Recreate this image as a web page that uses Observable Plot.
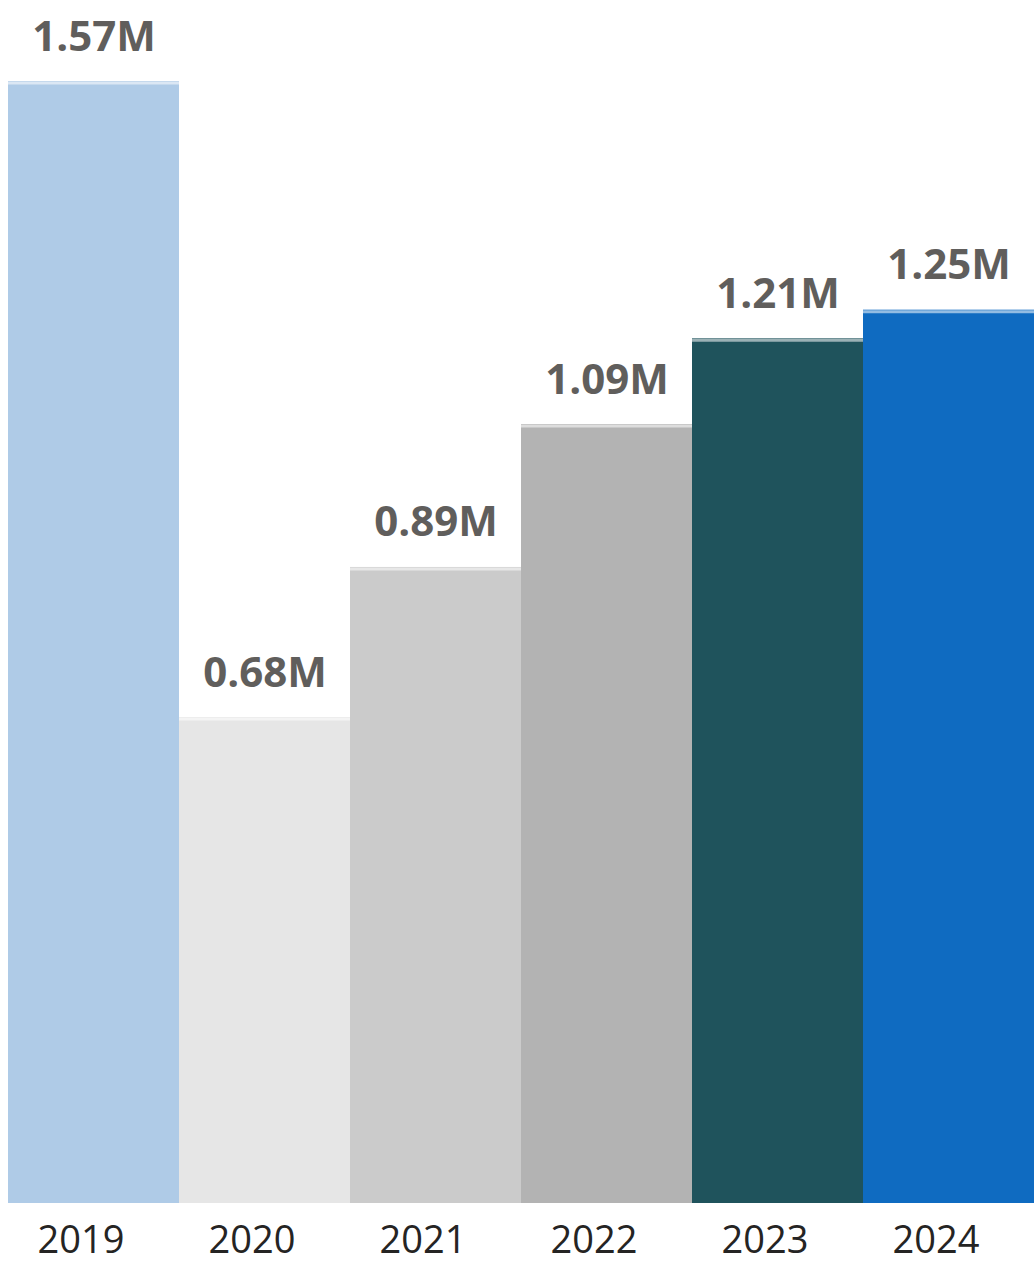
<!DOCTYPE html>
<html>
<head>
<meta charset="utf-8">
<script src="https://cdn.jsdelivr.net/npm/d3@7"></script>
<script src="https://cdn.jsdelivr.net/npm/@observablehq/plot@0.6"></script>
<style>
  html, body { margin: 0; padding: 0; background: #fff; }
  #chart svg { display: block; }
</style>
</head>
<body>
<div id="chart"></div>
<script>
const years = ["2019", "2020", "2021", "2022", "2023", "2024"];
const values = [1.57, 0.68, 0.89, 1.09, 1.21, 1.25]; // millions
const barColors = ["#afcbe7", "#e6e6e6", "#cbcbcb", "#b3b3b3", "#1f535c", "#0f6bc1"];

const data = years.map((year, i) => ({ year, value: values[i] }));

const chart = Plot.plot({
  width: 1035,
  height: 1265,
  marginTop: 81,
  marginBottom: 62,
  marginLeft: 7,
  marginRight: 0,
  style: { fontFamily: "'Open Sans', 'Noto Sans', sans-serif", background: "#fff" },
  x: { domain: years, padding: 0, label: null },
  y: { domain: [0, 1.57], axis: null },
  color: { domain: years, range: barColors },
  marks: [
    Plot.barY(data, { x: "year", y: "value", fill: "year" }),
    Plot.tickY(data, { x: "year", y: "value", stroke: "#ffffff", strokeOpacity: 0.55, strokeWidth: 3, dy: 1.5 }),
    Plot.text(data, {
      x: "year", y: "value",
      text: d => d.value.toFixed(2) + "M",
      lineAnchor: "bottom", dy: -31,
      fontSize: 42, fontWeight: 700, fill: "#605e5c"
    }),
    Plot.axisX({
      tickSize: 0, tickPadding: 23, fontSize: 38, fill: "#252423", dx: -13,
      label: null
    })
  ]
});

document.getElementById("chart").appendChild(chart);
</script>
</body>
</html>
